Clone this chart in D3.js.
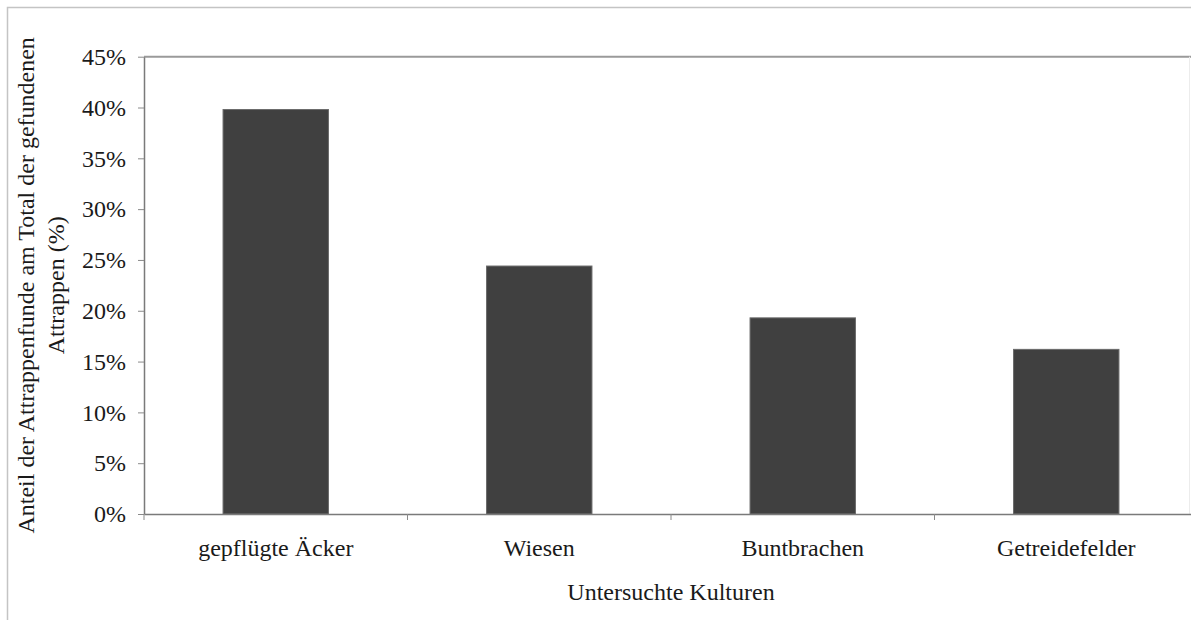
<!DOCTYPE html>
<html>
<head>
<meta charset="utf-8">
<script src="https://cdn.jsdelivr.net/npm/d3@7"></script>
<style>
  html, body { margin: 0; padding: 0; background: #fff; }
  svg { display: block; }
</style>
</head>
<body>
<script>
// Anteil der Attrappenfunde je Kultur (in Prozent)
const categories = ["gepflügte Äcker", "Wiesen", "Buntbrachen", "Getreidefelder"];
const shares = [39.8, 24.4, 19.3, 16.2];
const yTicks = [0, 5, 10, 15, 20, 25, 30, 35, 40, 45];
const yTitleLines = ["Anteil der Attrappenfunde am Total der gefundenen", "Attrappen (%)"];
const xTitle = "Untersuchte Kulturen";

const FONT = "'Liberation Serif', 'Times New Roman', Times, serif";
const FS = "24px";
const W = 1191, H = 620;
const plot = { left: 144, right: 1198, top: 56.7, bottom: 514 };

const svg = d3.select("body").append("svg")
  .attr("width", W).attr("height", H);

// outer frame
svg.append("path")
  .attr("d", `M7.5,${H} V7.5 H${W}`)
  .attr("fill", "none").attr("stroke", "#c4c4c4").attr("stroke-width", 1.5);

const x = d3.scaleBand()
  .domain(categories)
  .range([plot.left, plot.right])
  .paddingInner(0.6)
  .paddingOuter(0.3);

const y = d3.scaleLinear()
  .domain([0, 45])
  .range([plot.bottom, plot.top]);

// plot area top edge and faint right edge
svg.append("line")
  .attr("x1", plot.left).attr("x2", W)
  .attr("y1", y(45)).attr("y2", y(45))
  .attr("stroke", "#9a9a9a").attr("stroke-width", 2);
svg.append("line")
  .attr("x1", 1189.5).attr("x2", 1189.5)
  .attr("y1", y(45)).attr("y2", plot.bottom)
  .attr("stroke", "#ececec").attr("stroke-width", 1);

// bars
svg.append("g").selectAll("rect")
  .data(categories.map((c, i) => ({ c, v: shares[i] })))
  .join("rect")
  .attr("x", d => x(d.c))
  .attr("width", x.bandwidth())
  .attr("y", d => y(d.v))
  .attr("height", d => y(0) - y(d.v))
  .attr("fill", "#404040")
  .attr("stroke", "#6a6a6a")
  .attr("stroke-width", 1);

// y axis
const yAxis = svg.append("g")
  .attr("transform", `translate(${plot.left},0)`)
  .call(d3.axisLeft(y)
    .tickValues(yTicks)
    .tickFormat(d => d + "%")
    .tickSize(6)
    .tickSizeOuter(0)
    .tickPadding(12));
yAxis.attr("font-family", FONT);
yAxis.select(".domain").attr("stroke", "#7a7a7a").attr("stroke-width", 1.5);
yAxis.selectAll(".tick line").attr("stroke", "#8a8a8a");
yAxis.selectAll(".tick text")
  .style("font-family", FONT)
  .style("font-size", FS)
  .attr("fill", "#1a1a1a");

// x axis: labels under band centres, tick marks on band boundaries
const xAxis = svg.append("g")
  .attr("transform", `translate(0,${plot.bottom})`)
  .call(d3.axisBottom(x).tickSize(0).tickSizeOuter(0).tickPadding(25));
xAxis.attr("font-family", FONT);
xAxis.select(".domain").attr("stroke", "#7a7a7a").attr("stroke-width", 1.5);
xAxis.selectAll(".tick text")
  .style("font-family", FONT)
  .style("font-size", FS)
  .attr("fill", "#1a1a1a");

const boundaries = categories.map(c => x(c) + x.bandwidth() / 2 - x.step() / 2);
xAxis.selectAll("line.bound")
  .data(boundaries)
  .join("line")
  .attr("class", "bound")
  .attr("x1", d => d).attr("x2", d => d)
  .attr("y1", 0).attr("y2", 6)
  .attr("stroke", "#8a8a8a");

// axis titles
svg.append("text")
  .attr("x", (plot.left + plot.right) / 2)
  .attr("y", 600)
  .attr("text-anchor", "middle")
  .style("font-family", FONT)
  .style("font-size", FS)
  .attr("fill", "#1a1a1a")
  .text(xTitle);

const cy = (plot.top + plot.bottom) / 2;
svg.selectAll("text.ytitle")
  .data(yTitleLines)
  .join("text")
  .attr("class", "ytitle")
  .attr("transform", (d, i) => `translate(${34 + i * 30},${cy}) rotate(-90)`)
  .attr("text-anchor", "middle")
  .style("font-family", FONT)
  .style("font-size", FS)
  .attr("fill", "#1a1a1a")
  .text(d => d);
</script>
</body>
</html>
